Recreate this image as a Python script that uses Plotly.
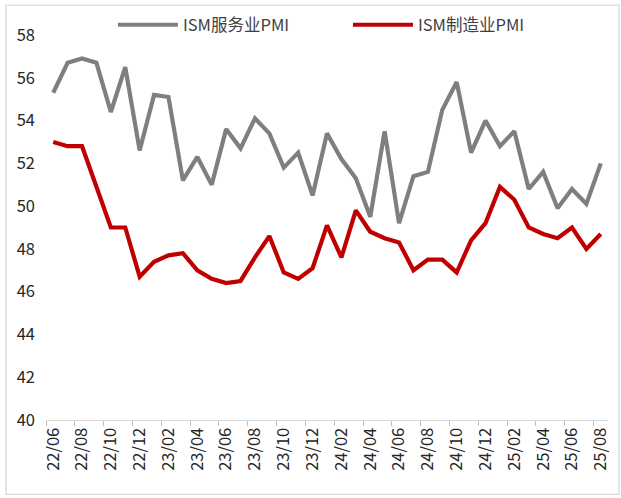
import plotly.graph_objects as go

months = ["22/06", "22/07", "22/08", "22/09", "22/10", "22/11", "22/12",
          "23/01", "23/02", "23/03", "23/04", "23/05", "23/06", "23/07", "23/08", "23/09", "23/10", "23/11", "23/12",
          "24/01", "24/02", "24/03", "24/04", "24/05", "24/06", "24/07", "24/08", "24/09", "24/10", "24/11", "24/12",
          "25/01", "25/02", "25/03", "25/04", "25/05", "25/06", "25/07", "25/08"]

services_pmi = [55.3, 56.7, 56.9, 56.7, 54.4, 56.5, 52.6, 55.2, 55.1, 51.2, 52.3, 51.0, 53.6,
                52.7, 54.1, 53.4, 51.8, 52.5, 50.5, 53.4, 52.2, 51.3, 49.5, 53.5, 49.2, 51.4,
                51.6, 54.5, 55.8, 52.5, 54.0, 52.8, 53.5, 50.8, 51.6, 49.9, 50.8, 50.1, 52.0]

manufacturing_pmi = [53.0, 52.8, 52.8, 50.9, 49.0, 49.0, 46.7, 47.4, 47.7, 47.8, 47.0, 46.6, 46.4,
                     46.5, 47.6, 48.6, 46.9, 46.6, 47.1, 49.1, 47.6, 49.8, 48.8, 48.5, 48.3, 47.0,
                     47.5, 47.5, 46.9, 48.4, 49.2, 50.9, 50.3, 49.0, 48.7, 48.5, 49.0, 48.0, 48.7]

y_ticks = [40, 42, 44, 46, 48, 50, 52, 54, 56, 58]

FONT = "Noto Sans CJK SC, Microsoft YaHei, sans-serif"

fig = go.Figure()
fig.add_trace(go.Scatter(x=months, y=services_pmi, mode="lines", name="ISM服务业PMI",
                         line=dict(color="#7f7f7f", width=4.2)))
fig.add_trace(go.Scatter(x=months, y=manufacturing_pmi, mode="lines", name="ISM制造业PMI",
                         line=dict(color="#c00000", width=4.2)))

W, H = 621, 498
L, R, T, B = 46, 608.5, 35, 420.5
pw, ph = R - L, B - T

def px(x):
    return (x - L) / pw

def py(y):
    return (B - y) / ph

fig.update_layout(
    width=W, height=H,
    margin=dict(l=L, r=W - R, t=T, b=H - B, pad=0, autoexpand=False),
    paper_bgcolor="white", plot_bgcolor="white",
    font=dict(family=FONT, size=16, color="#262626"),
    showlegend=True,
    legend=dict(orientation="h", x=px(113), y=py(25), xanchor="left", yanchor="middle",
                itemwidth=60, entrywidth=160, font=dict(size=16.5, color="#404040"),
                bgcolor="rgba(0,0,0,0)", traceorder="normal"),
    xaxis=dict(type="category", categoryorder="array", categoryarray=months,
               range=[-0.5, len(months) - 0.5], dtick=2, tickson="boundaries",
               tickangle=-90, ticks="outside", ticklen=5, tickcolor="#bfbfbf", tickwidth=1,
               showline=True, linecolor="#d9d9d9", linewidth=1.3, showgrid=False, zeroline=False,
               automargin=False, tickfont=dict(size=16.5, color="#262626")),
    yaxis=dict(range=[40, 58], tickvals=y_ticks, showgrid=False, zeroline=False, showline=False,
               automargin=False, ticks="", ticklabelstandoff=10,
               tickfont=dict(size=16.5, color="#262626")),
    shapes=[dict(type="rect", xref="paper", yref="paper",
                 x0=px(6), x1=px(619.5), y0=py(495), y1=py(5),
                 line=dict(color="#d9d9d9", width=1.3), fillcolor="rgba(0,0,0,0)", layer="below")],
)

# remove the default page margin so the figure sits at the window origin
fig.write_html("out.html", config={"displayModeBar": False},
               post_script="document.body.style.margin='0px';document.body.style.overflow='hidden';")
